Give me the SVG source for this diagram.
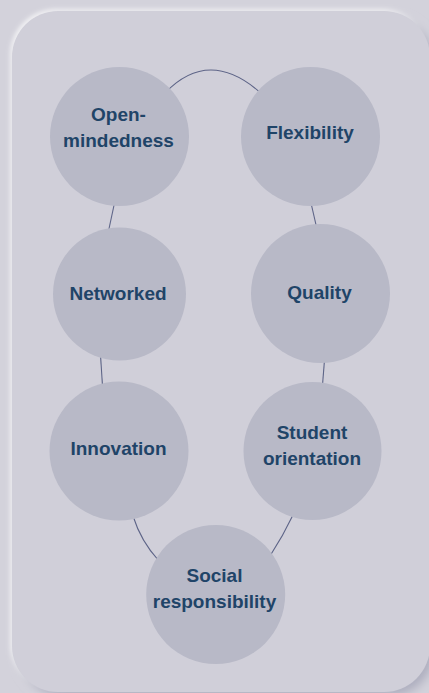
<svg xmlns="http://www.w3.org/2000/svg" width="429" height="693" viewBox="0 0 429 693">
<defs>
<filter id="neu" x="-10%" y="-10%" width="120%" height="120%">
<feDropShadow dx="5" dy="5" stdDeviation="5" flood-color="#8e8fa8" flood-opacity="0.7"/>
<feDropShadow dx="-2" dy="-2" stdDeviation="2" flood-color="#ffffff" flood-opacity="0.7"/>
</filter>
<style>
.node circle{fill:#b8b9c7;}
.node text{font-family:"Liberation Sans",Arial,Helvetica,sans-serif;font-weight:bold;font-size:19px;fill:#1f4468;text-anchor:middle;}
.conn path{fill:none;stroke:#5d6487;stroke-width:1.1;}
</style>
</defs>
<rect x="0" y="0" width="429" height="693" fill="#d3d2db"/>
<rect x="12" y="11" width="418" height="681" rx="46" ry="46" fill="#d0cfd9" filter="url(#neu)"/>
<g id="connectors" class="conn">
<path d="M165 93 Q210 46 263 95"/>
<path d="M114.5 203 L108.5 231"/>
<path d="M311 203 L316.5 227"/>
<path d="M100.5 355 L102.5 386"/>
<path d="M324.5 360 L322.5 385"/>
<path d="M133 516 Q141 541.5 159 561"/>
<path d="M293 515 Q283 536 270 556"/>
</g>
<g id="open-mindedness" class="node">
<circle cx="119.5" cy="136.5" r="69.5"/>
<text x="118.5" y="120.5">Open-</text>
<text x="118.5" y="146.5">mindedness</text>
</g>
<g id="flexibility" class="node">
<circle cx="310.5" cy="136.5" r="69.5"/>
<text x="310" y="139">Flexibility</text>
</g>
<g id="networked" class="node">
<circle cx="119.5" cy="294" r="66.5"/>
<text x="118" y="300">Networked</text>
</g>
<g id="quality" class="node">
<circle cx="320.5" cy="293.5" r="69.5"/>
<text x="319.5" y="298.5">Quality</text>
</g>
<g id="innovation" class="node">
<circle cx="119" cy="451" r="69.5"/>
<text x="118.5" y="454.5">Innovation</text>
</g>
<g id="student-orientation" class="node">
<circle cx="312.5" cy="451" r="69"/>
<text x="312" y="438.5">Student</text>
<text x="312" y="464.5">orientation</text>
</g>
<g id="social-responsibility" class="node">
<circle cx="215.7" cy="594.5" r="69.5"/>
<text x="214.5" y="581.8">Social</text>
<text x="214.5" y="607.8">responsibility</text>
</g>
</svg>
